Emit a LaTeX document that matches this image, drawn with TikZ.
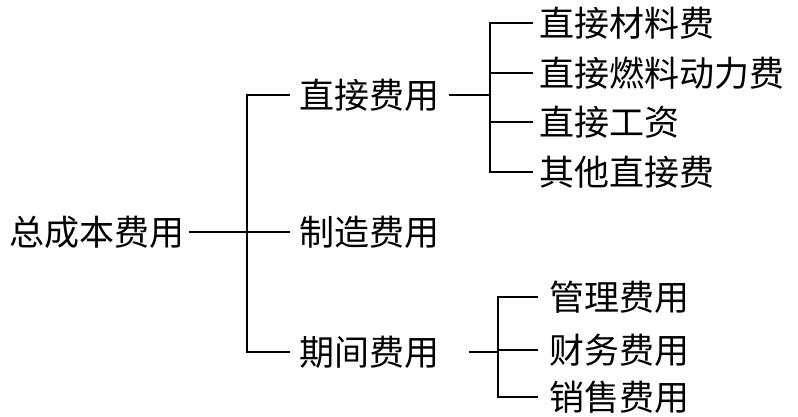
\documentclass[tikz,border=0pt]{standalone}
\usepackage{fontspec}
\newfontfamily\cjk{Noto Sans CJK SC}
\begin{document}
\begin{tikzpicture}[x=1pt, y=-1pt, line width=2.8pt,
    every node/.style={font=\cjk\fontsize{35}{35}\selectfont, inner ysep=0pt, anchor=west},
    rootname/.style={inner xsep=3pt},
    midname/.style={inner xsep=8pt},
    leafname/.style={inner xsep=5pt},
    subname/.style={inner xsep=10pt}]
    \useasboundingbox (0,0) rectangle (798,416);
    % Total cost
    \node[rootname] (root) at (5,232) {总成本费用};
    % Three kinds of cost
    \node[midname] (direct) at (290,95) {直接费用};
    \node[midname] (make) at (290,232) {制造费用};
    \node[midname] (period) at (290,352) {期间费用};
    \coordinate (jroot) at (247,232);
    \draw (root.east) -- (make.west);
    \draw (direct.west) -| (jroot) |- (period.west);
    % Direct cost items
    \node[leafname] (mat) at (533,23) {直接材料费};
    \node[leafname] (fuel) at (533,73) {直接燃料动力费};
    \node[leafname] (wage) at (533,122) {直接工资};
    \node[leafname] (other) at (533,172) {其他直接费};
    \coordinate (jdirect) at (490,95);
    \draw (direct.east) -- (jdirect);
    \draw (mat.west) -| (jdirect) |- (other.west);
    \draw (jdirect) |- (fuel.west);
    \draw (jdirect) |- (wage.west);
    % Period cost items
    \node[subname] (admin) at (538,297) {管理费用};
    \node[subname] (finance) at (538,350) {财务费用};
    \node[subname] (sales) at (538,397) {销售费用};
    \coordinate (jperiod) at (498,352);
    \draw[shorten <=20pt] (period.east) -- (jperiod);
    \draw (admin.west) -| (jperiod) |- (sales.west);
    \draw (jperiod) |- (finance.west);
\end{tikzpicture}
\end{document}
